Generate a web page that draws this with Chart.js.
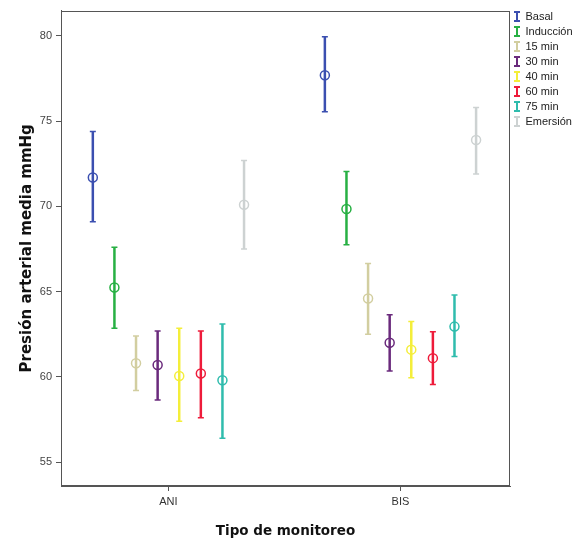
<!DOCTYPE html>
<html><head><meta charset="utf-8">
<script src="https://cdn.jsdelivr.net/npm/chart.js@4.4.0/dist/chart.umd.min.js"></script>
<style>html,body{margin:0;padding:0;background:#fff}#wrap{width:579px;height:540px}</style>
</head><body><div id="wrap"><canvas id="c" width="579" height="540"></canvas></div>
<script>
const categories = ['ANI', 'BIS'];
const seriesNames = ['Basal', 'Inducción', '15 min', '30 min', '40 min', '60 min', '75 min', 'Emersión'];
const meanANI = [71.7, 65.25, 60.8, 60.7, 60.05, 60.2, 59.8, 70.1];
const lowANI  = [69.1, 62.85, 59.2, 58.65, 57.4, 57.6, 56.4, 67.5];
const highANI = [74.4, 67.6, 62.4, 62.7, 62.85, 62.7, 63.1, 72.7];
const meanBIS = [77.7, 69.85, 64.6, 62.0, 61.6, 61.1, 62.95, 73.9];
const lowBIS  = [75.55, 67.75, 62.5, 60.35, 59.95, 59.55, 61.2, 71.9];
const highBIS = [79.95, 72.05, 66.65, 63.65, 63.25, 62.65, 64.8, 75.8];
const yTicks = [55, 60, 65, 70, 75, 80];

const colors = ['#3b4fb0', '#27b043', '#d2cea0', '#6a2a7c', '#f4ee3a', '#ee1b3a', '#2fbcad', '#cdd2d2'];
const FONT = "'Liberation Sans', Arial, sans-serif";
const TITLE_FONT = "'DejaVu Sans', Verdana, sans-serif";
const GROUP_STEP = 0.0931;

function ibeam(color) {
  const cv = document.createElement('canvas');
  cv.width = 6; cv.height = 11;
  const g = cv.getContext('2d');
  g.fillStyle = color;
  g.fillRect(0, 0, 6, 2);
  g.fillRect(2, 0, 2, 11);
  g.fillRect(0, 9, 6, 2);
  return cv;
}
const legendIcons = colors.map(ibeam);

const groups = [
  {mean: meanANI, low: lowANI, high: highANI},
  {mean: meanBIS, low: lowBIS, high: highBIS}
];

const datasets = seriesNames.map((name, i) => {
  const off = (i - 3.5) * GROUP_STEP;
  const data = [];
  const styles = [];
  const radii = [];
  groups.forEach((g, gi) => {
    const x = gi + off;
    if (gi > 0) { data.push({x: x, y: null}); styles.push('line'); radii.push(0); }
    data.push({x: x, y: g.low[i]}); styles.push('line'); radii.push(3);
    data.push({x: x, y: g.mean[i]}); styles.push('circle'); radii.push(4.5);
    data.push({x: x, y: g.high[i]}); styles.push('line'); radii.push(3);
  });
  return {
    label: name,
    data: data,
    showLine: true,
    spanGaps: false,
    borderColor: colors[i],
    backgroundColor: colors[i],
    borderWidth: 2.5,
    pointStyle: styles,
    pointRadius: radii,
    pointBorderWidth: 1.5,
    pointBorderColor: colors[i],
    pointBackgroundColor: 'rgba(0,0,0,0)',
    pointHoverRadius: radii
  };
});

const boxPlugin = {
  id: 'box',
  afterDraw(chart) {
    const a = chart.chartArea, ctx = chart.ctx;
    ctx.save();
    ctx.strokeStyle = '#555';
    ctx.lineWidth = 1;
    ctx.strokeRect(Math.round(a.left) + 0.5, Math.round(a.top) + 0.5, Math.round(a.right - a.left) - 1, Math.round(a.bottom - a.top) - 1);
    ctx.restore();
  }
};

new Chart(document.getElementById('c'), {
  type: 'scatter',
  data: {datasets: datasets},
  plugins: [boxPlugin],
  options: {
    responsive: false,
    animation: false,
    devicePixelRatio: 1,
    layout: {padding: {top: 7, right: 0, bottom: 0, left: 0}},
    plugins: {
      tooltip: {enabled: false},
      legend: {
        position: 'right',
        align: 'start',
        maxWidth: 69,
        labels: {
          usePointStyle: true,
          boxWidth: 6,
          padding: 4,
          color: '#222',
          font: {family: FONT, size: 11},
          generateLabels(chart) {
            const items = Chart.defaults.plugins.legend.labels.generateLabels(chart);
            items.forEach((it, k) => { it.pointStyle = legendIcons[k]; });
            return items;
          }
        }
      }
    },
    scales: {
      x: {
        type: 'linear',
        min: -0.463,
        max: 1.472,
        afterBuildTicks(s) { s.ticks = categories.map((c, k) => ({value: k})); },
        afterFit(s) { s.height = 54; },
        ticks: {
          callback: (v) => categories[v],
          color: '#333',
          font: {family: FONT, size: 11},
          padding: 4,
          maxRotation: 0
        },
        grid: {drawOnChartArea: false, tickLength: 5, color: '#555'},
        border: {color: '#555'},
        title: {display: true, text: 'Tipo de monitoreo', color: '#111', font: {family: TITLE_FONT, size: 13.5, weight: 'bold'}, padding: {top: 7.6, bottom: 0}}
      },
      y: {
        type: 'linear',
        min: 53.6,
        max: 81.49,
        afterBuildTicks(s) { s.ticks = yTicks.map(v => ({value: v})); },
        afterFit(s) { s.width = 61; },
        ticks: {color: '#444', font: {family: FONT, size: 11}, padding: 4},
        grid: {drawOnChartArea: false, tickLength: 5, color: '#555'},
        border: {color: '#555'},
        title: {display: true, text: 'Presión arterial media mmHg', color: '#111', font: {family: TITLE_FONT, size: 15, weight: 'bold'}, padding: {top: 18, bottom: 0}}
      }
    }
  }
});
</script></body></html>
